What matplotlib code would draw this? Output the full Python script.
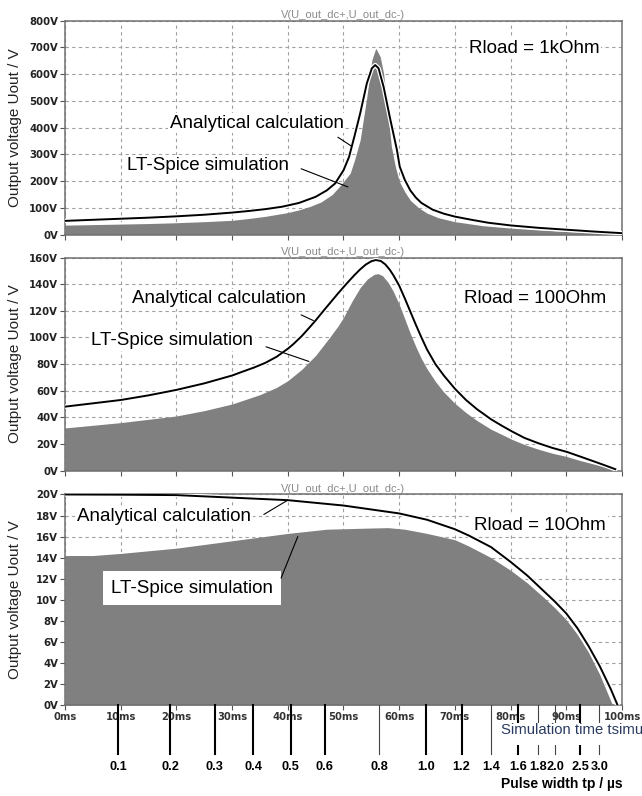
import matplotlib.pyplot as plt
from matplotlib import patheffects
from matplotlib.patches import Rectangle

# Rload = 1kOhm  (time in ms, voltage in V)
t1_calc = [0, 5, 10, 15, 20, 25, 30, 33, 36, 39, 42, 45, 47, 48.5, 50, 51, 52, 53, 54.2, 55.1,
           55.7, 56.3, 57.2, 58.3, 59.6, 60.1, 61, 62, 63, 64, 66, 68, 70, 73, 76, 80, 85, 90, 95, 100]
u1_calc = [51, 55, 59, 63, 68, 74, 82, 88, 95, 104, 118, 141, 165, 191, 240, 290, 370, 453, 566, 622,
           634, 622, 553, 441, 316, 254, 205, 165, 138, 118, 93, 78, 67, 55, 44, 34, 25, 18, 11, 5]
t1_sim = [0, 5, 10, 15, 20, 25, 30, 33, 36, 40, 42, 44, 46, 48, 49.5, 51.2, 52, 53, 54.2, 55.1,
          55.8, 56.6, 57.2, 58, 58.6, 59.3, 60, 61, 62, 63.5, 65, 67, 70, 75, 80, 85, 90, 95, 100]
u1_sim = [35, 37, 39, 41, 44, 48, 53, 60, 68, 82, 92, 105, 122, 150, 185, 229, 280, 354, 516, 653,
          697, 665, 603, 450, 330, 255, 200, 160, 128, 100, 80, 63, 48, 33, 24, 17, 11, 7, 3]

# Rload = 100Ohm
t2_calc = [0, 5, 10, 15, 20, 25, 30, 32, 34, 36, 38, 40, 41, 42.5, 44, 45, 46.5, 48, 49, 50, 51,
           52, 53, 54, 55, 55.8, 56.7, 57.5, 58.3, 59, 60, 61, 62, 63, 64, 65, 66.5, 68, 70, 72,
           74, 76.5, 78.5, 80.2, 82.5, 85, 87.5, 90.1, 92.5, 95, 97, 98.8]
u2_calc = [48, 50.5, 53, 56.5, 60.6, 65.5, 71.4, 74.5, 77.5, 81, 85.5, 91.5, 95, 101, 108, 112.8,
           120.5, 128, 133, 137.8, 142.5, 147, 151.2, 154.8, 157.3, 158.2, 157.5, 155, 151, 146.5,
           139, 129.5, 119.5, 109.5, 100, 91, 80, 71.5, 61.5, 53, 46, 38.5, 33.5, 29.5, 24.5, 20.5,
           17, 14, 10.5, 6.8, 3.8, 1]
t2_sim = [0, 5, 10, 15, 20, 25, 30, 35, 38, 40, 42.5, 45, 47.5, 49, 50, 51.5, 53, 54.3, 55.5,
          56.2, 57, 58, 58.9, 60, 61, 62, 63, 64, 65, 66.5, 68, 70, 72, 74, 76.5, 78.5, 80.2, 82.5,
          85, 87.5, 90.1, 92.5, 95, 97, 98.5]
u2_sim = [32, 34, 36, 38.5, 41, 45, 50, 57, 62.5, 67.5, 76, 86.5, 100, 108.5, 115, 127, 137.5, 144,
          147.4, 148, 146.5, 141.5, 135, 125, 114, 103, 93, 84, 76.5, 67, 59, 50.5, 43.5, 37.5, 31,
          27, 23.5, 19.5, 16, 13, 10.5, 7.5, 4.8, 2.6, 0.8]

# Rload = 10Ohm
t3_calc = [0, 10, 20, 30, 40, 50, 60, 65, 70, 72.5, 76.5, 80, 83, 86, 88, 90, 92, 94, 96, 98, 99.2]
u3_calc = [20.0, 19.98, 19.94, 19.7, 19.46, 18.95, 18.2, 17.6, 16.7, 16.1, 15.0, 13.6, 12.3, 10.8,
           9.8, 8.7, 7.3, 5.6, 3.7, 1.5, 0]
t3_sim = [0, 5, 10, 20, 30, 40, 47, 54, 58, 61, 65, 70, 72.5, 76.5, 80, 83, 86, 88, 90, 92, 94,
          96, 97.5, 98.3]
u3_sim = [14.2, 14.2, 14.4, 14.9, 15.6, 16.3, 16.7, 16.8, 16.85, 16.7, 16.3, 15.7, 15.1, 14.0,
          12.8, 11.6, 10.2, 9.2, 8.1, 6.7, 5.0, 2.9, 1.0, 0]

# pulse width scale below the time axis
pulse_ms = [9.5, 18.9, 26.9, 33.8, 40.5, 46.6, 56.4, 64.8, 71.2, 76.5, 81.4, 84.9, 88.0, 92.5, 95.9]
pulse_labels = ['0.1', '0.2', '0.3', '0.4', '0.5', '0.6', '0.8', '1.0', '1.2', '1.4',
                '1.6', '1.8', '2.0', '2.5', '3.0']
pulse_thin = ['0.8', '1.4', '1.8', '2.0', '3.0']

rloads = ['Rload = 1kOhm', 'Rload = 100Ohm', 'Rload = 10Ohm']
ymax = [800, 160, 20]
ystep = [100, 20, 2]

SANS = ['Liberation Sans', 'DejaVu Sans']
TICKFONT = 'DejaVu Sans'

fig = plt.figure(figsize=(6.42, 7.96), dpi=100)
rects = [[0.1012, 0.7054, 0.8676, 0.2686],
         [0.1012, 0.4089, 0.8676, 0.2674],
         [0.1012, 0.1143, 0.8676, 0.2645]]

data = [(t1_calc, u1_calc, t1_sim, u1_sim),
        (t2_calc, u2_calc, t2_sim, u2_sim),
        (t3_calc, u3_calc, t3_sim, u3_sim)]

# annotation placement per panel: (calc text xy, sim text xy, rload xy, calc leader, sim leader)
notes = [
    ((34.4, 417), (25.7, 259), (84.2, 696), ((49, 364), (51.4, 331)), ((42.4, 246), (50.8, 178))),
    ((27.7, 129), (19.2, 98), (84.4, 129), ((42.4, 117), (44.6, 112.7)), ((36.1, 93), (43.8, 82))),
    ((17.8, 17.9), (22.8, 11.1), (85.3, 17.1), ((35.7, 18.1), (40.0, 19.46)), ((38.8, 12.06), (41.8, 16.0))),
]

axes = []
for i, rect in enumerate(rects):
    ax = fig.add_axes(rect)
    axes.append(ax)
    tc, uc, ts, us = data[i]
    ax.fill_between(ts, 0, us, color='#808080', lw=0, zorder=2)
    ax.plot(tc, uc, color='black', lw=1.4, zorder=3,
            path_effects=[patheffects.withStroke(linewidth=3.2, foreground='white')])

    ax.set_xlim(0, 100)
    ax.set_ylim(0, ymax[i])
    ax.set_xticks(range(0, 101, 10))
    yt = list(range(0, ymax[i] + 1, ystep[i]))
    ax.set_yticks(yt)
    ax.set_yticklabels([f'{v}V' for v in yt], fontsize=7.3, fontweight='bold',
                       family=TICKFONT, color='#222222')
    if i == 2:
        ax.set_xticklabels([f'{v}ms' for v in range(0, 101, 10)], fontsize=7.2,
                           fontweight='bold', family=TICKFONT, color='#333333')
    else:
        ax.set_xticklabels([])
    ax.tick_params(direction='out', length=3.5, width=0.8, color='#555555', pad=1.5)
    ax.set_axisbelow(True)
    ax.grid(True, color='#a0a0a0', lw=0.8, ls=(0, (3, 3)))
    for s in ax.spines.values():
        s.set_color('#707070')
        s.set_linewidth(1.1)

    ax.set_title('V(U_out_dc+,U_out_dc-)', fontsize=8, color='#8a8a8a', family=SANS, pad=2)
    ax.set_ylabel('Output voltage Uout / V', fontsize=11, family=SANS, color='#222222')
    ax.yaxis.set_label_coords(-0.078, 0.5)

    calc_xy, sim_xy, rl_xy, calc_lead, sim_lead = notes[i]
    pad_sim = 0.45 if i == 2 else 0.1
    ax.text(*calc_xy, 'Analytical calculation', fontsize=13.5, family=SANS, ha='center', va='center',
            zorder=5, bbox=dict(boxstyle='square,pad=0.1', fc='white', ec='none'))
    ax.text(*sim_xy, 'LT-Spice simulation', fontsize=13.5, family=SANS, ha='center', va='center',
            zorder=5, bbox=dict(boxstyle=f'square,pad={pad_sim}', fc='white', ec='none'))
    ax.text(*rl_xy, rloads[i], fontsize=13.5, family=SANS, ha='center', va='center',
            zorder=5, bbox=dict(boxstyle='square,pad=0.1', fc='white', ec='none'))
    for a, b in (calc_lead, sim_lead):
        ax.annotate('', xy=b, xytext=a, zorder=6,
                    arrowprops=dict(arrowstyle='-', color='black', lw=0.8,
                                    shrinkA=0, shrinkB=0))

# pulse width scale
ax3 = axes[2]
trans = ax3.get_xaxis_transform()
for x, lab in zip(pulse_ms, pulse_labels):
    thin = lab in pulse_thin
    ax3.plot([x, x], [0, -0.233], transform=trans, clip_on=False, zorder=6,
             color='#444444' if thin else 'black', lw=0.8 if thin else 1.5)
    ax3.text(x, -0.295, lab, transform=trans, ha='center', va='center', fontsize=9.2,
             fontweight='bold', family=SANS, color='black')
ax3.text(100.2, -0.375, 'Pulse width tp / µs', transform=trans, ha='right', va='center',
         fontsize=10, fontweight='bold', family=SANS, color='black')

fig.patches.append(Rectangle((0.7757, 0.0641), 0.2243, 0.0276, transform=fig.transFigure,
                             fc='white', ec='none', zorder=1))
fig.text(0.78, 0.0825, 'Simulation time tsimu', fontsize=10.7, family=SANS, color='#2a3b60',
         ha='left', va='center', zorder=3)

fig.savefig('out.png', dpi=100)
